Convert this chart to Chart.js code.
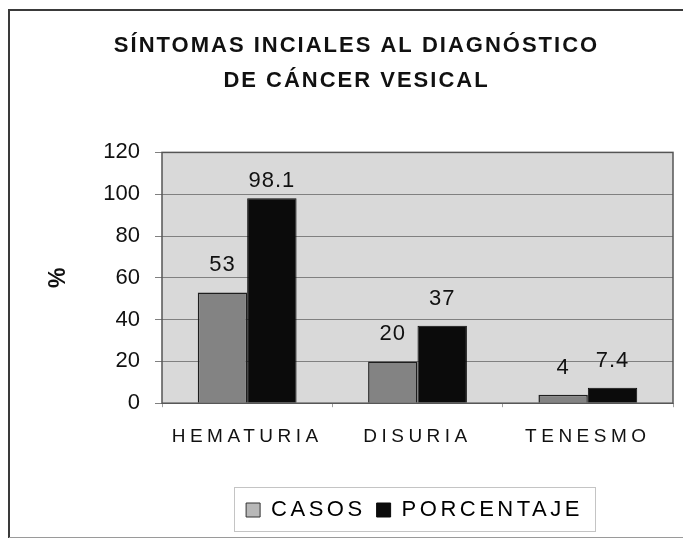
<!DOCTYPE html>
<html>
<head>
<meta charset="utf-8">
<script src="https://cdn.jsdelivr.net/npm/chart.js@4.4.1/dist/chart.umd.min.js"></script>
<style>
  html, body { margin: 0; padding: 0; background: #ffffff; }
  #wrap { width: 683px; height: 539px; }
</style>
</head>
<body>
<div id="wrap"><canvas id="c" width="683" height="539"></canvas></div>
<script>
const titleLines = ['SÍNTOMAS INCIALES AL DIAGNÓSTICO', 'DE CÁNCER VESICAL'];
const categories = ['HEMATURIA', 'DISURIA', 'TENESMO'];
const seriesNames = ['CASOS', 'PORCENTAJE'];
const casos = [53, 20, 4];
const porcentaje = [98.1, 37, 7.4];
const yTicks = [0, 20, 40, 60, 80, 100, 120];
const yTitle = '%';
const FONT = '"Liberation Sans", Arial, sans-serif';

function withSpacing(obj, method, spacing, extra) {
  const orig = obj[method];
  if (!orig || orig.__wrapped) return;
  const f = function () {
    const ctx = this.ctx || this.chart.ctx;
    const prev = ctx.letterSpacing;
    ctx.letterSpacing = spacing;
    let saved = null;
    if (extra) saved = extra.before(this);
    try { return orig.apply(this, arguments); }
    finally { ctx.letterSpacing = prev; if (extra) extra.after(this, saved); }
  };
  f.__wrapped = true;
  obj[method] = f;
}

// legend is centred inside its framed box (x 234..595)
const legendShift = {
  before(l) { const s = { left: l.left, right: l.right, width: l.width }; l.left = 234; l.right = 595; l.width = 361; return s; },
  after(l, s) { l.left = s.left; l.right = s.right; l.width = s.width; }
};

const spacingPlugin = {
  id: 'spacing',
  beforeUpdate(chart) {
    if (chart.legend) { withSpacing(chart.legend, 'fit', '3.5px'); withSpacing(chart.legend, 'draw', '3.5px', legendShift); }
    if (chart.titleBlock) { withSpacing(chart.titleBlock, 'draw', '2px'); }
  },
  beforeDraw(chart) {
    if (chart.scales.x) withSpacing(chart.scales.x, 'drawLabels', '4.5px');
  }
};

const framePlugin = {
  id: 'frame',
  beforeDraw(chart) {
    const ctx = chart.ctx;
    const a = chart.chartArea;
    ctx.save();
    ctx.fillStyle = '#ffffff';
    ctx.fillRect(0, 0, chart.width, chart.height);
    ctx.strokeStyle = '#3a3a3a';
    ctx.lineWidth = 2;
    ctx.beginPath();
    ctx.moveTo(9, 538);
    ctx.lineTo(9, 10);
    ctx.lineTo(683, 10);
    ctx.stroke();
    ctx.strokeStyle = '#9a9a9a';
    ctx.lineWidth = 1;
    ctx.beginPath();
    ctx.moveTo(9, 537.5);
    ctx.lineTo(683, 537.5);
    ctx.stroke();
    ctx.fillStyle = '#d9d9d9';
    ctx.fillRect(a.left, a.top, a.right - a.left, a.bottom - a.top);
    ctx.restore();
  },
  afterDatasetsDraw(chart) {
    const ctx = chart.ctx;
    const a = chart.chartArea;
    ctx.save();
    ctx.strokeStyle = '#555555';
    ctx.lineWidth = 1.5;
    ctx.strokeRect(a.left, a.top, a.right - a.left, a.bottom - a.top);
    ctx.fillStyle = '#111111';
    ctx.font = '22px ' + FONT;
    ctx.letterSpacing = '1px';
    ctx.textAlign = 'center';
    ctx.textBaseline = 'bottom';
    chart.data.datasets.forEach((ds, di) => {
      const meta = chart.getDatasetMeta(di);
      meta.data.forEach((bar, i) => {
        const v = ds.data[i];
        const y = Math.max(bar.y - 16, a.top + 40);
        ctx.fillText(String(v), bar.x, y);
      });
    });
    ctx.restore();
  },
  afterDraw(chart) {
    const ctx = chart.ctx;
    ctx.save();
    ctx.strokeStyle = '#c4c4c4';
    ctx.lineWidth = 1;
    ctx.strokeRect(234.5, 487.5, 361, 44);
    ctx.restore();
  }
};

new Chart(document.getElementById('c'), {
  type: 'bar',
  data: {
    labels: categories,
    datasets: [
      { label: seriesNames[0], data: casos, backgroundColor: '#838383', borderColor: '#1e1e1e', borderWidth: 1.5 },
      { label: seriesNames[1], data: porcentaje, backgroundColor: '#0b0b0b', borderColor: '#0b0b0b', borderWidth: 1 }
    ]
  },
  options: {
    responsive: false,
    animation: false,
    events: [],
    layout: { padding: { left: 40, right: 10, top: 0, bottom: 8 } },
    datasets: { bar: { categoryPercentage: 0.58, barPercentage: 1.0 } },
    plugins: {
      title: {
        display: true,
        text: titleLines,
        color: '#111111',
        font: { family: FONT, size: 22, weight: 'bold', lineHeight: 1.6 },
        padding: { top: 28, bottom: 54 }
      },
      legend: {
        display: true,
        position: 'bottom',
        labels: {
          color: '#111111',
          font: { family: FONT, size: 22 },
          boxWidth: 14,
          boxHeight: 14,
          padding: 11,
          generateLabels(chart) {
            return chart.data.datasets.map((ds, i) => ({
              text: ds.label,
              fillStyle: i === 0 ? '#b8b8b8' : '#0b0b0b',
              strokeStyle: i === 0 ? '#333333' : '#0b0b0b',
              lineWidth: 1,
              datasetIndex: i,
              hidden: false
            }));
          }
        }
      },
      tooltip: { enabled: false }
    },
    scales: {
      x: {
        grid: { display: true, drawOnChartArea: false, drawTicks: true, tickLength: 4, color: '#a0a0a0' },
        border: { display: false },
        ticks: { color: '#111111', font: { family: FONT, size: 19 }, padding: 18, maxRotation: 0 },
        afterFit(scale) { scale.height += 22; }
      },
      y: {
        min: 0,
        max: 120,
        afterBuildTicks(scale) { scale.ticks = yTicks.map(v => ({ value: v })); },
        afterFit(scale) { scale.width = 122; },
        grid: { color: '#808080', lineWidth: 1, tickLength: 7 },
        border: { display: false },
        ticks: { color: '#111111', font: { family: FONT, size: 22 }, padding: 15 },
        title: { display: true, text: yTitle, color: '#111111', font: { family: FONT, size: 23, weight: 'bold' }, padding: { top: 5, bottom: 0 } }
      }
    }
  },
  plugins: [spacingPlugin, framePlugin]
});
</script>
</body>
</html>
